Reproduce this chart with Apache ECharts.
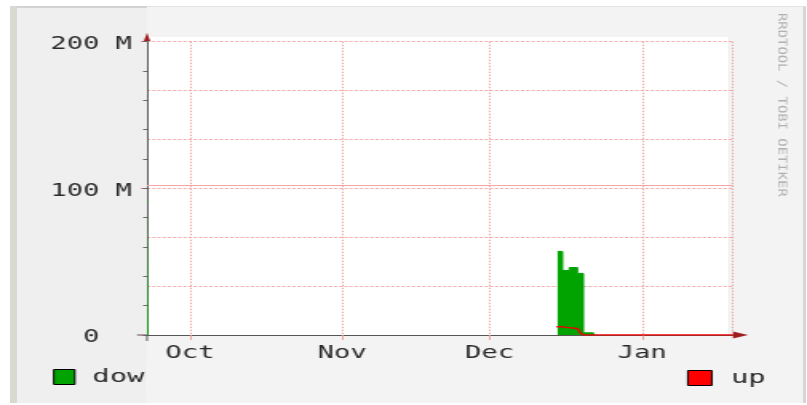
<!DOCTYPE html>
<html>
<head>
<meta charset="utf-8">
<title>rrd traffic</title>
<script src="https://cdn.jsdelivr.net/npm/echarts@6/dist/echarts.min.js"></script>
<style>
html, body { margin: 0; padding: 0; background: #fff; overflow: hidden; }
.box { position: absolute; }
#bandL { left: 10px; top: 6px; width: 7px; height: 397px; background: #d9d9d1; }
#panelL { left: 17px; top: 6px; width: 130px; height: 397px; background: #efefef; border-top: 2px solid #d3d3d3; box-sizing: border-box; }
#panelR { left: 147px; top: 6px; width: 659px; height: 397px; background: #f3f3f3; border-top: 1px solid #e3e3e3; border-right: 3px solid #d6d6d6; box-sizing: border-box; }
#plotBg { left: 148px; top: 37px; width: 580px; height: 298px; background: #fff; }
#cover { left: 146px; top: 362px; width: 90px; height: 34px; background: #f3f3f3; z-index: 5; }
/* the reference is an rrdtool image stretched sideways, so the chart is too */
#main { position: absolute; left: 0; top: 0; width: 505px; height: 405px; transform-origin: 0 0; transform: scaleX(1.59802); z-index: 2; }
</style>
</head>
<body>
<div class="box" id="bandL"></div>
<div class="box" id="panelL"></div>
<div class="box" id="panelR"></div>
<div class="box" id="plotBg"></div>
<div id="main"></div>
<div class="box" id="cover"></div>
<script>
// values in M (bytes/s)
const monthNames = ['Jan', 'Feb', 'Mar', 'Apr', 'May', 'Jun', 'Jul', 'Aug', 'Sep', 'Oct', 'Nov', 'Dec'];
const timeRange = ['2008-09-22 06:00', '2009-01-19 12:00'];
const yLabelValues = [0, 100, 200];
const hruleValue = 102;

const downTimes = ['2008-09-22 06:00', '2008-09-22 12:00', '2008-09-22 13:00',
  '2008-12-14 19:00', '2008-12-15 19:00', '2008-12-17 05:00', '2008-12-18 20:00',
  '2008-12-20 01:00', '2008-12-22 02:00'];
const downValues = [91, 91, null, 57, 44, 46, 42, 1.5, 0];

const upTimes = ['2008-12-14 14:00', '2008-12-15 19:00', '2008-12-16 14:00', '2008-12-18 20:00',
  '2008-12-19 11:00', '2008-12-20 01:00', '2009-01-19 12:00'];
const upValues = [5.7, 5.2, 4.5, 3.6, 1.4, 0, 0];

const S = 807 / 505;
const u = px => px / S;              // page px -> chart px
const toMs = s => new Date(s.replace(' ', 'T')).getTime();
const font = 'DejaVu Sans Mono';
const textColor = '#2a2a2a';
const gridLeft = u(147);
const gridTop = 41.7;
const axisY = 335;

let myChart = echarts.init(document.getElementById('main'));
myChart.setOption({
    animation: false,
    backgroundColor: 'transparent',
    grid: {
        left: gridLeft,
        top: gridTop,
        right: 505 - u(733),
        bottom: 405 - axisY,
        outerBoundsMode: 'none'
    },
    legend: [
        {
            data: ['down'], left: u(53), top: 368, padding: 0,
            icon: 'rect', itemWidth: u(21), itemHeight: 15,
            itemStyle: { borderColor: '#000', borderWidth: 1 },
            textStyle: { fontFamily: font, fontSize: 18, color: textColor, padding: [0, 0, 0, 6] }
        },
        {
            data: ['up'], left: u(687), top: 369, padding: 0,
            icon: 'rect', itemWidth: u(24), itemHeight: 15,
            itemStyle: { borderColor: '#000', borderWidth: 1 },
            textStyle: { fontFamily: font, fontSize: 18, color: textColor, padding: [0, 0, 0, 7] }
        }
    ],
    xAxis: [
        {
            type: 'time', min: toMs(timeRange[0]), max: toMs(timeRange[1]), z: 1,
            minInterval: 28 * 86400000, maxInterval: 31 * 86400000,
            axisLine: { show: true, lineStyle: { color: '#555', width: 1 } },
            axisTick: { show: true, length: 5, lineStyle: { color: '#f0a0a0' } },
            axisLabel: {
                fontFamily: font, fontSize: 17, color: textColor, margin: 10,
                formatter: v => monthNames[new Date(v).getMonth()]
            },
            splitLine: { show: true, lineStyle: { color: '#f2a0a0', type: [1.5, 1.5], width: 1 } }
        },
        {
            // only here for the dark red arrow
            type: 'time', min: toMs(timeRange[0]), max: toMs(timeRange[1]), z: 0,
            position: 'bottom',
            axisLine: {
                show: true, symbol: ['none', 'triangle'], symbolSize: [7, u(15)], symbolOffset: [0, u(7.5)],
                lineStyle: { color: '#a01c1c', width: 1 }
            },
            axisTick: { show: false }, axisLabel: { show: false }, splitLine: { show: false }
        }
    ],
    yAxis: [
        {
            type: 'value', min: 0, max: 200, interval: 200 / 6, z: 1, position: 'left',
            axisLine: { show: true, lineStyle: { color: '#5a5a5a', width: 1 } },
            axisTick: { show: false },
            axisLabel: {
                margin: u(15),
                rich: { v: { fontFamily: font, fontSize: 17, color: textColor, padding: [6, 0, 0, 0] } },
                formatter: v => {
                    let hit = yLabelValues.find(t => Math.abs(t - v) < 0.01);
                    if (hit === undefined) return '';
                    return '{v|' + (hit === 0 ? '0  ' : hit + ' M') + '}';
                }
            },
            splitLine: { show: true, lineStyle: { color: '#f3a9a9', type: [2, 1.25], width: 1 } }
        },
        {
            // minor ticks
            type: 'value', min: 0, max: 200, interval: 20, z: 1, position: 'left', offset: 0,
            axisLine: { show: false },
            axisTick: { show: true, length: u(4), lineStyle: { color: '#666' } },
            axisLabel: { show: false }, splitLine: { show: false }
        },
        {
            // major ticks + arrow
            type: 'value', min: 0, max: 200, interval: 100, z: 0, position: 'left', offset: 0,
            axisLine: {
                show: true, symbol: ['none', 'triangle'], symbolSize: [u(7), 9], symbolOffset: [0, 4.5],
                lineStyle: { color: '#a01c1c', width: 1 }
            },
            axisTick: { show: true, length: u(6), lineStyle: { color: '#e07070' } },
            axisLabel: { show: false }, splitLine: { show: false }
        }
    ],
    graphic: [
        { type: 'line', shape: { x1: u(137), y1: axisY, x2: gridLeft, y2: axisY }, style: { stroke: '#555', lineWidth: 1 } },
        { type: 'line', shape: { x1: gridLeft, y1: axisY, x2: gridLeft, y2: axisY + 6 }, style: { stroke: '#555', lineWidth: 1 } },
        {
            type: 'text', x: u(781), y: 13, rotation: -Math.PI / 2, scaleX: 1.85,
            style: { text: 'RRDTOOL / TOBI OETIKER', fill: '#b0b0b0', font: '7.5px "DejaVu Sans Mono"', align: 'left', verticalAlign: 'middle' }
        }
    ],
    series: [
        {
            name: 'down', type: 'line', step: 'end', showSymbol: false, symbol: 'none',
            data: downTimes.map((t, i) => [toMs(t), downValues[i]]),
            itemStyle: { color: '#00a300' },
            lineStyle: { color: '#00a300', width: 1 },
            areaStyle: { color: '#00a300', opacity: 1 },
            markLine: {
                silent: true, symbol: 'none', label: { show: false },
                lineStyle: { color: '#f6a4a4', type: 'solid', width: 1 },
                data: [{ yAxis: hruleValue }]
            }
        },
        {
            name: 'up', type: 'line', step: 'end', showSymbol: false, symbol: 'none',
            data: upTimes.map((t, i) => [toMs(t), upValues[i]]),
            itemStyle: { color: '#ff0000' },
            lineStyle: { color: '#ee0000', width: 1.5 }
        }
    ]
});
</script>
</body>
</html>
